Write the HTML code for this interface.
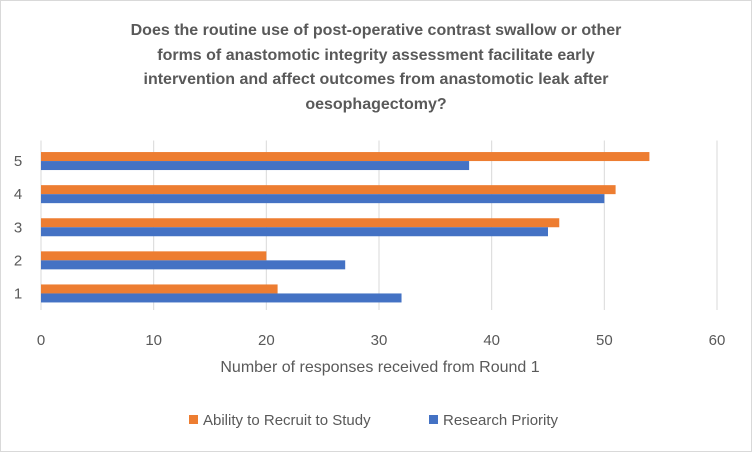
<!DOCTYPE html>
<html><head><meta charset="utf-8">
<style>
html,body{margin:0;padding:0;background:#fff;}
#wrap{position:relative;width:752px;height:452px;overflow:hidden;font-family:"Liberation Sans",sans-serif;}
</style></head>
<body>
<div id="wrap">
<svg id="chart" width="752" height="452" xmlns="http://www.w3.org/2000/svg">
<rect x="0.5" y="0.5" width="751" height="451" fill="#fff" stroke="#d9d9d9"/>
<g font-weight="bold" font-size="16" fill="#595959" text-anchor="middle">
<text x="376" y="35">Does the routine use of post-operative contrast swallow or other</text>
<text x="376" y="60">forms of anastomotic integrity assessment facilitate early</text>
<text x="376" y="84">intervention and affect outcomes from anastomotic leak after</text>
<text x="376" y="109">oesophagectomy?</text>
</g>
<g id="grid"></g>
<g id="bars"></g>
<g id="labels" fill="#595959" font-size="15"></g>
<text x="380" y="372" text-anchor="middle" font-size="16" fill="#595959">Number of responses received from Round 1</text>
<g font-size="15" fill="#595959">
<rect x="189" y="415" width="9" height="9" fill="#ed7d31"/>
<text x="203" y="425">Ability to Recruit to Study</text>
<rect x="429" y="415" width="9" height="9" fill="#4472c4"/>
<text x="443" y="425">Research Priority</text>
</g>
</svg>
</div>
<script>
const categories = ["1","2","3","4","5"];
const recruitValues = [21,20,46,51,54];
const priorityValues = [32,27,45,50,38];
const xTicks = [0,10,20,30,40,50,60];

const NS="http://www.w3.org/2000/svg";
const x0=41, x1=717, xMax=60, plotTop=144.5, plotBottom=310;
const band=(plotBottom-plotTop)/categories.length;
function xs(v){return x0+(x1-x0)*v/xMax;}
function bandCenter(i){return plotBottom-band*(i+0.5);}
function mk(tag,attrs,parent){const e=document.createElementNS(NS,tag);for(const k in attrs)e.setAttribute(k,attrs[k]);parent.appendChild(e);return e;}
const grid=document.getElementById('grid'),bars=document.getElementById('bars'),labels=document.getElementById('labels');
xTicks.forEach(t=>{
  const l=mk('line',{x1:xs(t),x2:xs(t),y1:plotTop-4,y2:plotBottom,stroke:'#d9d9d9','stroke-width':1},grid);
  
  
  const tx=mk('text',{x:xs(t),y:345,'text-anchor':'middle'},labels);
  tx.textContent=t;
  
  
});
categories.forEach((c,i)=>{
  const cy=bandCenter(i);
  const r1=mk('rect',{x:x0,y:cy-9,width:xs(recruitValues[i])-x0,height:9,fill:'#ed7d31'},bars);
  
  
  const r2=mk('rect',{x:x0,y:cy,width:xs(priorityValues[i])-x0,height:9,fill:'#4472c4'},bars);
  
  
  const t=mk('text',{x:18,y:cy+5,'text-anchor':'middle'},labels);
  t.textContent=c;
  
  
});
</script>
</body></html>
